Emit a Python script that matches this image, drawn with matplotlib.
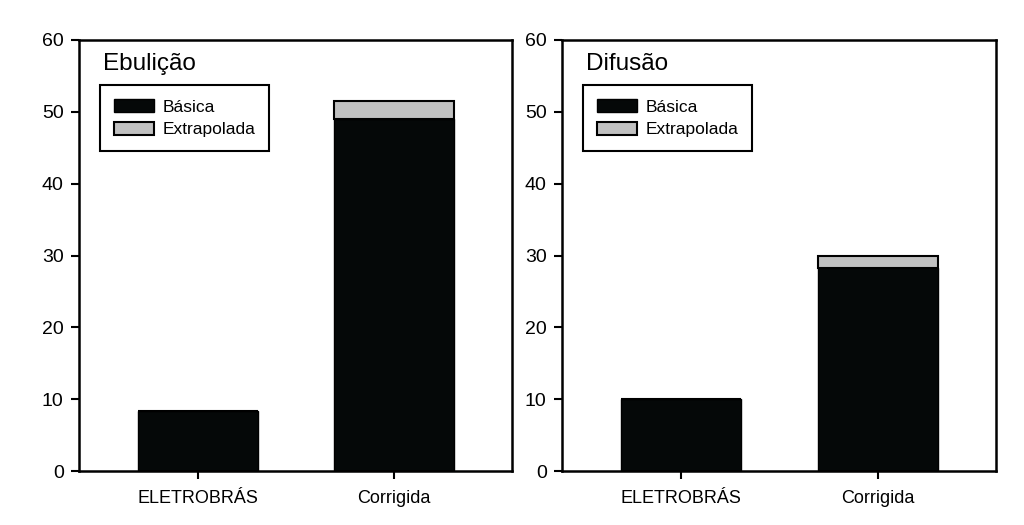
import matplotlib
matplotlib.use("Agg")
import matplotlib.pyplot as plt

plt.rcParams['font.family'] = ['Liberation Sans', 'DejaVu Sans']

categories = ["ELETROBRÁS", "Corrigida"]
titles = ["Ebulição", "Difusão"]
basica = [[8.3, 49.0], [10.0, 28.2]]
extrapolada = [[0.0, 2.5], [0.0, 1.8]]
yticks = [0, 10, 20, 30, 40, 50, 60]

W, H = 1024, 525
fig = plt.figure(figsize=(W / 100, H / 100), dpi=100)

axes_px = [(79, 512), (562, 996)]
top_px, bot_px = 40, 471

for i, (x0, x1) in enumerate(axes_px):
    ax = fig.add_axes([x0 / W, 1 - bot_px / H, (x1 - x0) / W, (bot_px - top_px) / H])
    xs = list(range(len(categories)))
    b1 = ax.bar(xs, basica[i], width=0.61, color='#050808', edgecolor='black',
                linewidth=1.0, label='Básica')
    b2 = ax.bar(xs, extrapolada[i], bottom=basica[i], width=0.61, color='#c0c0c0',
                edgecolor='black', linewidth=1.5, label='Extrapolada')
    ax.set_xlim(-0.605, 1.6)
    ax.set_ylim(0, 60)
    ax.set_yticks(yticks)
    ax.set_xticks(xs)
    ax.set_xticklabels(categories, fontsize=13)
    ax.tick_params(axis='y', labelsize=14, direction='out', length=6, width=1.5, pad=5)
    ax.tick_params(axis='x', direction='out', length=6, width=1.5, pad=8)
    for s in ax.spines.values():
        s.set_linewidth(1.8)
    ax.text(0.055, 0.944, titles[i], transform=ax.transAxes, fontsize=17.5,
            ha='left', va='center')
    leg = ax.legend(handles=[b1, b2], loc='upper left', bbox_to_anchor=(0.048, 0.895),
                    fontsize=12.5, frameon=True, fancybox=False, edgecolor='black',
                    framealpha=1, borderpad=0.8, handlelength=2.3, handleheight=0.8,
                    labelspacing=0.4, handletextpad=0.5, borderaxespad=0)
    leg.get_frame().set_linewidth(1.5)

fig.savefig("out.png", dpi=100)
